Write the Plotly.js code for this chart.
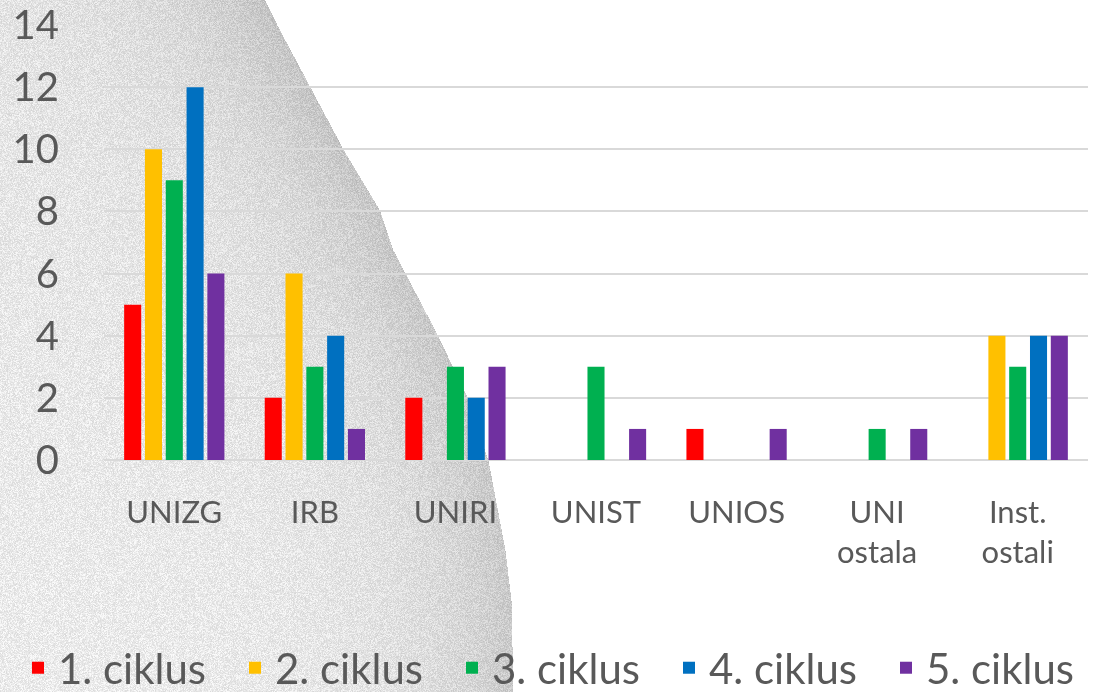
<!DOCTYPE html>
<html>
<head>
<meta charset="utf-8">
<script src="https://cdn.plot.ly/plotly-3.0.1.min.js"></script>
<style>
html,body{margin:0;padding:0;background:#fff;}
#wrap{position:relative;width:1109px;height:692px;}
#bg{position:absolute;left:0;top:0;}
#chart{position:absolute;left:0;top:0;width:1109px;height:692px;}
</style>
</head>
<body>
<div id="wrap"><canvas id="bg" width="1109" height="692"></canvas><div id="chart"></div></div>
<script>
// ---- data ----
var categories = ["UNIZG", "IRB", "UNIRI", "UNIST", "UNIOS", "UNI<br>ostala", "Inst.<br>ostali"];
var seriesNames = ["1. ciklus", "2. ciklus", "3. ciklus", "4. ciklus", "5. ciklus"];
var ciklus1 = [5, 2, 2, 0, 1, 0, 0];
var ciklus2 = [10, 6, 0, 0, 0, 0, 4];
var ciklus3 = [9, 3, 3, 3, 0, 1, 3];
var ciklus4 = [12, 4, 2, 0, 0, 0, 4];
var ciklus5 = [6, 1, 3, 1, 1, 1, 4];
var yTicks = [0, 2, 4, 6, 8, 10, 12, 14];

var colors = ["#FF0000", "#FFC000", "#00B050", "#0070C0", "#7030A0"];
var allSeries = [ciklus1, ciklus2, ciklus3, ciklus4, ciklus5];

// ---- decorative grainy background ----
(function(){
  var c = document.getElementById('bg');
  var ctx = c.getContext('2d');
  var W = c.width, H = c.height;
  var img = ctx.createImageData(W, H);
  var seed = 12345;
  function rnd(){ seed = (seed * 1103515245 + 12345) & 0x7fffffff; return seed / 0x7fffffff; }
  var pts = [[0,265],[25,277],[87,310],[149,343],[211,380],[250,393],[336,438],[397,467],[460,488],[550,505],[600,511],[692,513]];
  function edge(y){
    for (var i=0;i<pts.length-1;i++){
      if (y>=pts[i][0] && y<=pts[i+1][0]){
        var t=(y-pts[i][0])/(pts[i+1][0]-pts[i][0]);
        return pts[i][1]+t*(pts[i+1][1]-pts[i][1]);
      }
    }
    return 513;
  }
  for (var y=0;y<H;y++){
    var ex = edge(y);
    for (var x=0;x<W;x++){
      var idx=(y*W+x)*4;
      var v;
      if (x < ex){
        var d = ex - x;
        var base = 238 - 34*Math.exp(-d/100) - 6*(1 - y/H);
        var n = rnd();
        v = base + (n-0.5)*38 - (n > 0.92 ? 24 : 0);
        if (v>255) v=255; if (v<0) v=0;
      } else v = 255;
      img.data[idx]=v; img.data[idx+1]=v; img.data[idx+2]=v; img.data[idx+3]=255;
    }
  }
  ctx.putImageData(img,0,0);
})();

// ---- chart ----
var traces = allSeries.map(function(vals, i){
  return {
    type: 'bar',
    name: seriesNames[i],
    x: categories,
    y: vals,
    marker: {color: colors[i]},
    hoverinfo: 'x+y+name'
  };
});

var layout = {
  width: 1109, height: 692,
  margin: {l: 104, r: 21, t: 25, b: 232, autoexpand: false},
  paper_bgcolor: 'rgba(0,0,0,0)',
  plot_bgcolor: 'rgba(0,0,0,0)',
  barmode: 'group',
  bargap: 0.26,
  bargroupgap: 0.18,
  font: {family: 'Lato, "Open Sans", sans-serif', color: '#595959'},
  xaxis: {
    type: 'category',
    automargin: false,
    tickfont: {size: 31, color: '#595959'},
    showgrid: false, zeroline: false, showline: false,
    ticks: '', ticklabelstandoff: 31
  },
  yaxis: {
    range: [0, 14],
    automargin: false,
    tickvals: yTicks,
    ticktext: yTicks.map(String),
    tickfont: {size: 40, color: '#595959'},
    showgrid: true, gridcolor: '#d9d9d9', gridwidth: 2,
    zeroline: true, zerolinecolor: '#d9d9d9', zerolinewidth: 2,
    showline: false, ticks: '', ticklabelstandoff: 44
  },
  legend: {
    orientation: 'h',
    xref: 'paper', yref: 'paper',
    x: -0.0874, xanchor: 'left',
    y: -0.478, yanchor: 'middle',
    entrywidth: 172, entrywidthmode: 'pixels',
    font: {size: 42, color: '#595959'},
    bgcolor: 'rgba(0,0,0,0)',
    itemwidth: 30,
    tracegroupgap: 0
  },
  showlegend: true
};

Plotly.newPlot('chart', traces, layout, {displayModeBar: false, staticPlot: true});
</script>
</body>
</html>
